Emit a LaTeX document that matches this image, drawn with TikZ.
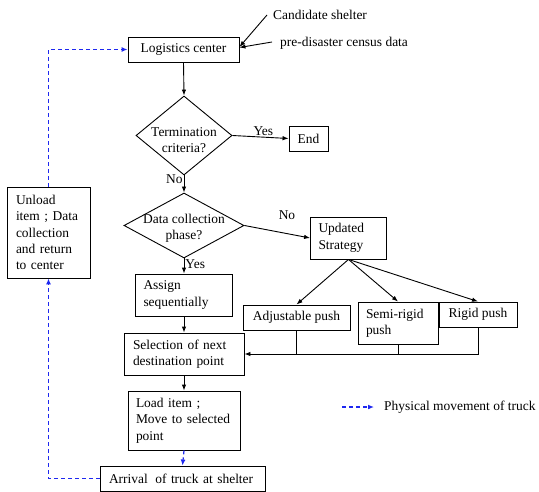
\documentclass[tikz,border=0pt]{standalone}
\usepackage{fontspec}
\setmainfont{Liberation Serif}
\usetikzlibrary{shapes.geometric,arrows.meta}
\definecolor{mvblue}{RGB}{30,40,240}
\tikzset{
  box/.style={draw, line width=0.9bp, rectangle, inner xsep=8bp, inner ysep=0bp, align=left, font=\fontsize{13.5}{16.5}\selectfont},
  dia/.style={draw, line width=0.9bp, diamond, inner sep=0bp},
  txt/.style={inner sep=0bp, font=\fontsize{13.5}{16.5}\selectfont},
  arr/.style={draw, line width=0.9bp, -{Latex[length=6bp,width=4.5bp]}},
  ln/.style={draw, line width=0.9bp},
  mv/.style={draw=mvblue, line width=1.2bp, dash pattern=on 4bp off 3bp, -{Latex[length=6bp,width=5bp]}, mvblue}
}
\begin{document}
\begin{tikzpicture}[x=1bp,y=-1bp]
\useasboundingbox (0,0) rectangle (539,492);
% main column
\node[box, minimum width=111bp, minimum height=25bp, align=center] (lc) at (183.5,49.5) {Logistics center};
\node[dia, minimum width=96bp, minimum height=79bp] (term) at (184,135.5) {};
\node[txt, align=center] (termt) at (184,140) {Termination\\criteria?};
\node[box, minimum width=39bp, minimum height=25bp, align=center, inner xsep=2bp] (end) at (308.5,138.5) {End};
\node[dia, minimum width=120bp, minimum height=65bp] (data) at (184,225.5) {};
\node[txt, align=center] (datat) at (184,228) {Data collection\\phase?};
\node[box, minimum width=73bp, minimum height=42bp, text width=60bp] (upd) at (348.5,238) {Updated\\Strategy};
\node[box, minimum width=107bp, minimum height=25bp, align=center, inner xsep=2bp] (adj) at (296.5,317.5) {Adjustable push};
\node[box, minimum width=78bp, minimum height=42bp, text width=64bp] (semi) at (398,323) {Semi-rigid\\push};
\node[box, minimum width=78bp, minimum height=25bp, align=center, inner xsep=2bp] (rigid) at (478,314.5) {Rigid push};
\node[box, minimum width=97bp, minimum height=42bp, text width=81bp] (assign) at (184,295) {Assign\\sequentially};
\node[box, minimum width=120bp, minimum height=42bp, text width=102bp, inner xsep=9bp] (sel) at (184,354) {Selection of next\\destination point};
\node[box, minimum width=112bp, minimum height=59bp, text width=96bp] (load) at (184,420.5) {Load item ;\\Move to selected\\point};
\node[box, minimum width=165bp, minimum height=25bp, text width=147bp, inner xsep=9bp] (arr) at (182.5,478.5) {Arrival\hspace{3bp} of truck at shelter};
\node[box, minimum width=83bp, minimum height=91bp, text width=65bp, inner xsep=9bp] (unl) at (48.5,232.5) {Unload\\item ; Data\\collection\\and return\\to center};
% inputs
\node[txt, anchor=west] (cs) at (273,15) {Candidate shelter};
\node[txt, anchor=west] (pd) at (280,43) {pre-disaster census data};
\coordinate (cs0) at (267,15);
\coordinate (pd0) at (272,42);
\draw[arr] (cs0) -- (lc.east |- 0,47);
\draw[arr] (pd0) -- (lc.east |- 0,47.5);
% main flow
\draw[arr] (lc.south) -- (term.north);
\draw[arr] (term.east) -- node[txt, above, pos=0.55, yshift=1bp] (yes1) {Yes} (end.west);
\draw[arr] (term.south) -- node[txt, left, pos=0.2, xshift=-1bp] (no1) {No} (data.north);
\draw[arr] (data.east) -- (upd.west);
\node[txt] (no2) at (287,215) {No};
\draw[arr] (data.south) -- node[txt, right, pos=0.35, xshift=1bp] (yes2) {Yes} (assign.north);
\draw[arr] (upd.south) -- (adj.north);
\draw[arr] (upd.south) -- (semi.north);
\draw[arr] (upd.south) -- (rigid.north);
\draw[ln] (adj.south) -- (adj.south |- sel.east);
\draw[ln] (semi.south) -- (semi.south |- sel.east);
\draw[arr] (rigid.south) |- (sel.east);
\draw[arr] (assign.south) -- (sel.north);
\draw[arr] (sel.south) -- (load.north);
% truck movement
\draw[mv] (load.south) -- (arr.north);
\draw[mv] (arr.west) -| (unl.south);
\draw[mv] (unl.north) |- (lc.west);
% legend
\coordinate (lg0) at (342,407);
\coordinate (lg1) at (374,407);
\draw[mv] (lg0) -- (lg1);
\node[txt, anchor=west] (lgt) at (384,407) {Physical movement of truck};
\end{tikzpicture}
\end{document}
